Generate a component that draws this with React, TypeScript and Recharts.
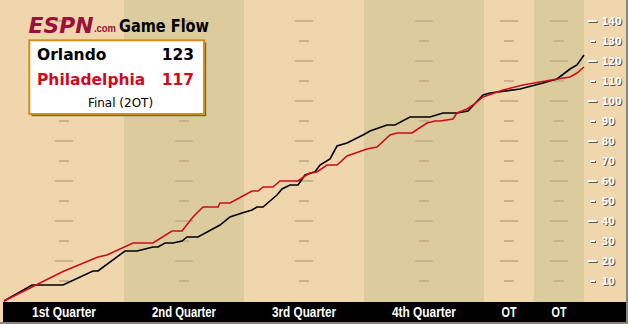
import {
  LineChart,
  Line,
  XAxis,
  YAxis,
  ReferenceArea,
  ReferenceLine,
} from 'recharts'

// game clock in minutes (4 x 12 + 2 x 5 = 58), score at that point
const orlando: [number, number][] = [
  [0, 0], [2.8, 8], [5.9, 8], [8.9, 15], [9.4, 15], [12.1, 25], [13.3, 25],
  [14.9, 27], [15.4, 27], [16.1, 29], [16.9, 29], [17.8, 30], [18.3, 32],
  [19.4, 32], [21.6, 38], [22.6, 42], [23.8, 44], [24.8, 45.5], [25.3, 47],
  [25.9, 47], [27.3, 53], [27.8, 56], [28.6, 58], [29.4, 58], [30.1, 63],
  [31.1, 64.6], [31.6, 68], [32.6, 71], [33.3, 77.5], [34.3, 79], [35.9, 83],
  [36.6, 85], [38.3, 88], [39.1, 88], [40.6, 92], [42.6, 92], [43.9, 94],
  [45.3, 94], [46.4, 95], [47.9, 103], [48.6, 104], [51.6, 106], [53.9, 109],
  [55.3, 111], [56.6, 116], [57.3, 118], [58, 123],
]

const philly: [number, number][] = [
  [0, 0], [2.8, 7], [5.9, 14.7], [9.4, 22], [10.3, 23], [12.9, 29], [14.9, 29],
  [16.8, 35], [17.8, 35], [18.9, 42], [19.9, 47], [21.4, 47], [21.6, 49],
  [22.6, 49], [24.8, 55], [25.4, 55], [25.9, 57], [26.9, 57], [27.6, 60],
  [29.4, 60], [30.1, 62.5], [30.6, 64], [31.3, 64.5], [32.3, 68], [33.3, 68],
  [34.3, 72.5], [36.3, 76], [37.3, 77], [38.6, 83], [39.3, 84], [40.8, 84],
  [42.3, 89], [43.1, 90], [43.6, 90], [44.9, 91], [45.3, 94], [46.3, 96],
  [46.9, 98], [47.9, 102], [49.9, 105.5], [51.9, 108], [55.3, 111],
  [56.6, 112], [57.3, 114], [58, 117],
]

const periods = ['1st Quarter', '2nd Quarter', '3rd Quarter', '4th Quarter', 'OT', 'OT']
const periodStart = [0, 12, 24, 36, 48, 53]
const periodEnd = [12, 24, 36, 48, 53, 58]
const periodMid = [6, 18, 30, 42, 50.5, 55.5]
const scoreTicks = [10, 20, 30, 40, 50, 60, 70, 80, 90, 100, 110, 120, 130, 140]

const LIGHT = '#EFD6AD'
const DARK = '#DCCC9D'
const DASH = '#C9B18B'
const RED = '#D00A1E'

// merge both teams onto one table keyed by time
const times = Array.from(new Set([...orlando, ...philly].map((p) => p[0]))).sort((a, b) => a - b)
const table = times.map((t) => ({
  t,
  orl: orlando.find((p) => p[0] === t)?.[1] ?? null,
  phi: philly.find((p) => p[0] === t)?.[1] ?? null,
}))

function PeriodTick(props: any) {
  const { x, payload } = props
  const label = periods[periodMid.indexOf(payload.value)] ?? ''
  return (
    <text
      x={x}
      y={317}
      textAnchor="middle"
      fill="#fff"
      fontFamily='"Liberation Sans Narrow", "Liberation Sans", Arial, sans-serif'
      fontWeight="bold"
      fontSize={14}
      textLength={label.length > 2 ? 64 : 15}
      lengthAdjust="spacingAndGlyphs"
    >
      {label}
    </text>
  )
}

function ScoreTick(props: any) {
  const { y, payload } = props
  const v = payload.value as number
  const long = v % 20 === 0
  const x0 = 584
  const dx1 = long ? 3.7 : 6
  const dx2 = long ? 12.7 : 11
  const font = {
    fontFamily: '"DejaVu Sans", Verdana, sans-serif',
    fontWeight: 'bold' as const,
    fontSize: 11,
  }
  return (
    <g>
      <rect x={x0 + dx1 + 1} y={y} width={dx2 - dx1} height={2} fill="#5b554a" />
      <rect x={x0 + dx1} y={y - 1} width={dx2 - dx1} height={2} fill="#fff" />
      <text x={x0 + 18.7} y={y + 5.2} fill="#5b554a" textLength={v >= 100 ? 20 : 13} lengthAdjust="spacingAndGlyphs" {...font}>
        {v}
      </text>
      <text x={x0 + 17.7} y={y + 4.2} fill="#fff" textLength={v >= 100 ? 20 : 13} lengthAdjust="spacingAndGlyphs" {...font}>
        {v}
      </text>
    </g>
  )
}

export default function App() {
  return (
    <div style={{ position: 'relative', width: 628, height: 324, background: '#8c8577' }}>
      <style>{'body{margin:0}'}</style>
      <div style={{ position: 'absolute', left: 0, top: 0, width: 626, height: 322, background: LIGHT }} />
      <div style={{ position: 'absolute', left: 3, top: 302, width: 623, height: 20, background: '#000' }} />
      <div style={{ position: 'absolute', left: 0, top: 0 }}>
        <LineChart width={628} height={324} data={table} margin={{ top: 0, right: 0, left: 4, bottom: 0 }}>
          <XAxis
            dataKey="t"
            type="number"
            domain={[0, 58]}
            ticks={periodMid}
            tick={<PeriodTick />}
            tickLine={false}
            axisLine={false}
            tickSize={0}
            height={22}
            interval={0}
          />
          <YAxis
            orientation="right"
            type="number"
            domain={[-0.5, 150.5]}
            ticks={scoreTicks}
            tick={<ScoreTick />}
            tickLine={false}
            axisLine={false}
            width={44}
            interval={0}
          />
          {periodStart.map((s, i) => (
            <ReferenceArea
              key={'band' + i}
              x1={s}
              x2={periodEnd[i]}
              y1={-0.5}
              y2={150.5}
              fill={i % 2 === 0 ? LIGHT : DARK}
              fillOpacity={1}
              stroke="none"
              ifOverflow="extendDomain"
            />
          ))}
          {periodMid.map((m) =>
            scoreTicks.map((v) => {
              const half = v % 20 === 0 ? 0.9 : 0.5
              return (
                <ReferenceLine
                  key={'d' + m + '-' + v}
                  segment={[
                    { x: m - half, y: v },
                    { x: m + half, y: v },
                  ]}
                  stroke={DASH}
                  strokeWidth={2}
                />
              )
            })
          )}
          <Line
            type="linear"
            dataKey="orl"
            stroke="#000"
            strokeWidth={1.6}
            dot={false}
            connectNulls
            isAnimationActive={false}
          />
          <Line
            type="linear"
            dataKey="phi"
            stroke={RED}
            strokeWidth={1.6}
            dot={false}
            connectNulls
            isAnimationActive={false}
          />
        </LineChart>
      </div>
      <svg width={628} height={324} style={{ position: 'absolute', left: 0, top: 0, pointerEvents: 'none' }}>
        <text
          x={28.5}
          y={32.7}
          fill="#9B0F3A"
          fontFamily='"DejaVu Sans", Verdana, sans-serif'
          fontWeight="bold"
          fontStyle="italic"
          fontSize={22}
          textLength={65}
          lengthAdjust="spacingAndGlyphs"
        >
          ESPN
        </text>
        <text
          x={94}
          y={32}
          fill="#9B0F3A"
          fontFamily='"Liberation Sans", Arial, sans-serif'
          fontWeight="bold"
          fontSize={10.5}
          textLength={22}
          lengthAdjust="spacingAndGlyphs"
        >
          .com
        </text>
        <text
          x={119}
          y={32.3}
          fill="#000"
          fontFamily='"DejaVu Sans", Verdana, sans-serif'
          fontWeight="bold"
          fontSize={18}
          textLength={90}
          lengthAdjust="spacingAndGlyphs"
        >
          Game Flow
        </text>
        <rect x={31.5} y={42.5} width={174.7} height={73.7} fill="#6b6357" />
        <rect x={29.3} y={40.3} width={174.7} height={73.7} fill="#fff" stroke="#D38E1C" strokeWidth={2} />
        <g fontFamily='"DejaVu Sans", Verdana, sans-serif' fontWeight="bold" fontSize={15.5}>
          <text x={37} y={60} fill="#000">Orlando</text>
          <text x={194} y={60} fill="#000" textAnchor="end">123</text>
          <text x={37} y={85} fill={RED}>Philadelphia</text>
          <text x={194} y={85} fill={RED} textAnchor="end">117</text>
        </g>
        <text x={120.5} y={106.5} textAnchor="middle" fontFamily='"DejaVu Sans", Verdana, sans-serif' fontSize={12} fill="#000">
          Final (2OT)
        </text>
      </svg>
    </div>
  )
}
